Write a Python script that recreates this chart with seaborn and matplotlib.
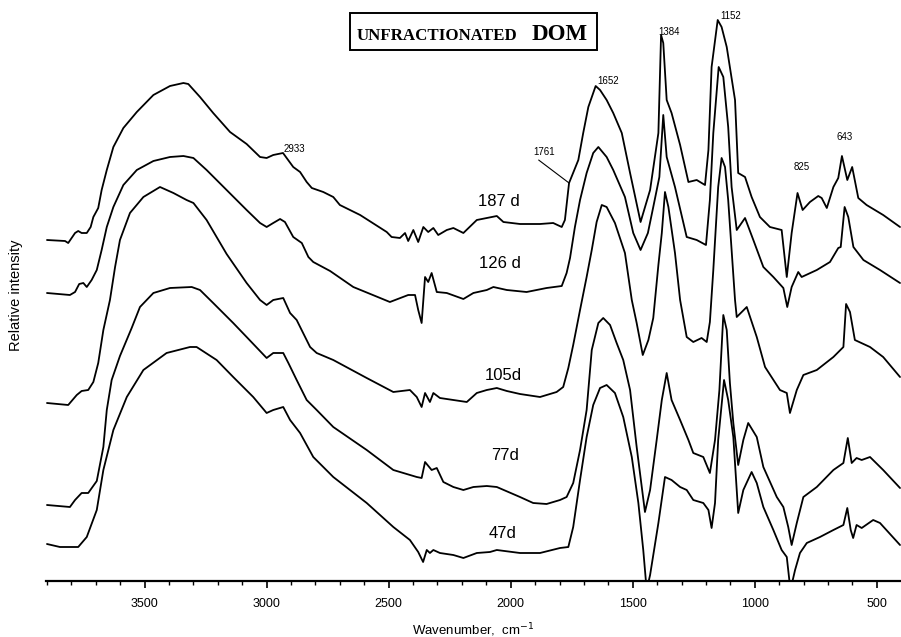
import matplotlib
matplotlib.use("Agg")
import matplotlib.pyplot as plt
from matplotlib.ticker import MultipleLocator
from matplotlib.patches import Rectangle
import seaborn as sns

# FTIR spectra of unfractionated DOM, stacked (relative intensity, a.u.)
wn_187 = [3900, 3826, 3813, 3785, 3772, 3758, 3737, 3721, 3710, 3690,
          3676, 3655, 3628, 3587, 3532, 3464, 3396, 3341, 3321, 3273,
          3219, 3150, 3082, 3027, 3000, 2973, 2933, 2918, 2891, 2863,
          2836, 2815, 2768, 2727, 2700, 2617, 2508, 2488, 2454, 2433,
          2420, 2399, 2379, 2358, 2338, 2317, 2297, 2262, 2235, 2194,
          2139, 2098, 2057, 2030, 1962, 1880, 1826, 1791, 1778, 1761,
          1723, 1703, 1682, 1652, 1634, 1607, 1580, 1545, 1511, 1468,
          1429, 1395, 1384, 1375, 1361, 1341, 1306, 1272, 1238, 1204,
          1190, 1177, 1152, 1136, 1115, 1081, 1068, 1040, 1013, 979,
          938, 890, 869, 849, 825, 804, 774, 740, 726, 705,
          678, 658, 643, 621, 601, 576, 542, 474, 405]
ab_187 = [341, 340, 338, 348, 350, 348, 348, 354, 364, 373,
          391, 411, 434, 453, 469, 486, 495, 498, 497, 484,
          468, 449, 437, 424, 423, 426, 428, 423, 414, 409,
          399, 393, 389, 384, 376, 366, 349, 344, 343, 348,
          340, 351, 339, 354, 349, 353, 346, 351, 353, 348,
          361, 363, 365, 359, 357, 357, 358, 354, 361, 398,
          421, 448, 474, 495, 491, 481, 468, 448, 408, 359,
          391, 448, 546, 538, 481, 468, 436, 399, 401, 396,
          431, 514, 561, 554, 534, 481, 408, 404, 384, 364,
          354, 351, 304, 348, 388, 371, 379, 385, 383, 373,
          394, 403, 425, 401, 414, 383, 376, 366, 354]

wn_126 = [3900, 3806, 3785, 3768, 3751, 3737, 3717, 3696, 3676, 3655,
          3628, 3587, 3532, 3464, 3396, 3341, 3300, 3246, 3164, 3082,
          3027, 3000, 2973, 2945, 2925, 2891, 2856, 2829, 2809, 2740,
          2645, 2495, 2420, 2392, 2379, 2365, 2351, 2338, 2324, 2303,
          2262, 2194, 2153, 2098, 2071, 2016, 1935, 1853, 1791, 1771,
          1757, 1737, 1716, 1689, 1662, 1641, 1607, 1580, 1532, 1498,
          1468, 1438, 1416, 1391, 1375, 1361, 1327, 1279, 1238, 1200,
          1184, 1170, 1148, 1129, 1109, 1095, 1074, 1040, 1006, 965,
          924, 883, 867, 849, 822, 808, 746, 692, 658, 648,
          632, 617, 596, 555, 487, 405]
ab_126 = [288, 286, 289, 297, 298, 294, 301, 311, 331, 354,
          374, 396, 411, 420, 424, 425, 423, 411, 391, 371,
          358, 354, 358, 362, 359, 344, 338, 324, 319, 310,
          294, 279, 286, 286, 271, 258, 304, 299, 308, 289,
          288, 282, 288, 291, 294, 291, 289, 293, 295, 308,
          323, 354, 381, 408, 428, 434, 424, 411, 384, 348,
          331, 348, 374, 404, 466, 424, 394, 344, 341, 336,
          381, 448, 514, 504, 454, 394, 351, 363, 341, 314,
          304, 293, 274, 294, 309, 304, 311, 319, 333, 334,
          374, 364, 334, 321, 311, 298]

wn_105 = [3900, 3813, 3778, 3758, 3731, 3710, 3690, 3669, 3642, 3621,
          3601, 3560, 3505, 3437, 3382, 3328, 3300, 3246, 3164, 3082,
          3027, 3000, 2973, 2932, 2904, 2877, 2822, 2795, 2727, 2590,
          2481, 2413, 2385, 2365, 2351, 2331, 2317, 2290, 2235, 2180,
          2139, 2098, 2057, 2016, 1962, 1880, 1812, 1785, 1764, 1744,
          1716, 1689, 1668, 1648, 1627, 1607, 1573, 1532, 1504, 1484,
          1459, 1436, 1416, 1395, 1381, 1368, 1354, 1327, 1306, 1279,
          1252, 1218, 1197, 1184, 1170, 1150, 1136, 1122, 1109, 1095,
          1081, 1074, 1033, 992, 958, 897, 869, 856, 828, 801,
          746, 678, 637, 626, 610, 590, 528, 474, 405]
ab_105 = [178, 176, 186, 190, 191, 199, 218, 251, 281, 314,
          341, 368, 384, 394, 388, 381, 378, 361, 327, 298,
          281, 276, 281, 283, 268, 261, 234, 228, 221, 203,
          189, 191, 184, 174, 188, 179, 188, 183, 181, 179,
          188, 191, 193, 190, 187, 184, 189, 194, 213, 236,
          271, 304, 331, 359, 376, 374, 358, 328, 281, 258,
          226, 241, 263, 316, 348, 389, 374, 328, 281, 244,
          239, 243, 239, 259, 311, 394, 423, 414, 381, 331,
          281, 264, 274, 244, 214, 191, 188, 168, 191, 206,
          211, 224, 234, 277, 269, 241, 234, 224, 204]

wn_77 = [3900, 3806, 3785, 3758, 3731, 3696, 3669, 3655, 3635, 3601,
         3553, 3519, 3464, 3396, 3307, 3273, 3219, 3137, 3082, 3000,
         2973, 2932, 2911, 2877, 2836, 2795, 2727, 2590, 2481, 2385,
         2365, 2351, 2324, 2303, 2276, 2235, 2194, 2153, 2098, 2057,
         1962, 1908, 1853, 1798, 1771, 1744, 1716, 1689, 1668, 1641,
         1621, 1593, 1566, 1539, 1511, 1484, 1450, 1429, 1402, 1381,
         1361, 1341, 1306, 1272, 1252, 1211, 1184, 1163, 1145, 1129,
         1115, 1102, 1088, 1068, 1047, 1027, 992, 965, 910, 883,
         863, 849, 828, 801, 746, 678, 637, 619, 603, 583,
         562, 528, 474, 405]
ab_77 = [76, 74, 81, 88, 88, 100, 134, 171, 201, 225,
         253, 274, 288, 293, 294, 291, 278, 258, 244, 223,
         228, 228, 218, 201, 181, 171, 154, 131, 111, 104,
         103, 119, 111, 113, 99, 94, 91, 94, 95, 94,
         84, 78, 77, 81, 84, 98, 131, 171, 231, 258,
         263, 256, 238, 221, 191, 134, 69, 91, 141, 181,
         208, 181, 161, 141, 128, 124, 108, 141, 191, 266,
         251, 198, 158, 116, 141, 158, 144, 114, 84, 74,
         54, 36, 58, 84, 94, 111, 118, 143, 118, 123,
         121, 124, 111, 93]

wn_47 = [3900, 3847, 3772, 3737, 3696, 3669, 3628, 3573, 3505, 3410,
         3314, 3287, 3205, 3137, 3055, 3000, 2973, 2932, 2904, 2863,
         2809, 2727, 2590, 2481, 2413, 2379, 2359, 2344, 2331, 2317,
         2290, 2235, 2194, 2139, 2085, 2057, 1962, 1880, 1798, 1764,
         1744, 1716, 1689, 1662, 1634, 1607, 1573, 1539, 1504, 1477,
         1457, 1443, 1429, 1395, 1368, 1341, 1306, 1279, 1252, 1211,
         1190, 1177, 1163, 1150, 1126, 1109, 1088, 1068, 1047, 1013,
         992, 965, 924, 890, 869, 854, 835, 815, 787, 733,
         678, 637, 621, 607, 597, 583, 562, 515, 487, 405]
ab_47 = [37, 34, 34, 44, 71, 111, 151, 184, 211, 228,
         234, 234, 221, 204, 184, 168, 171, 174, 161, 148,
         124, 104, 78, 54, 41, 29, 19, 31, 28, 31,
         28, 26, 23, 28, 29, 31, 28, 28, 33, 34,
         54, 101, 144, 176, 193, 196, 188, 164, 124, 78,
         31, -9, 6, 58, 104, 101, 94, 91, 81, 78,
         71, 53, 78, 141, 201, 181, 144, 68, 91, 109,
         98, 74, 51, 31, 24, -9, 11, 28, 38, 44,
         51, 56, 73, 51, 43, 56, 53, 61, 58, 36]

days = ["187 d", "126 d", "105d", "77d", "47d"]
spectra = [(wn_187, ab_187), (wn_126, ab_126), (wn_105, ab_105),
           (wn_77, ab_77), (wn_47, ab_47)]
day_label_pos = [(2048, 379), (2044, 317), (2032, 205), (2023, 125), (2032, 48)]

# assigned bands on the 187 d spectrum: (wavenumber, label offset in points)
bands = [(2933, (8.5, 3.1)), (1652, (8.9, 3.6)), (1384, (5.8, 2.2)),
         (1152, (9.0, 2.9)), (825, (2.7, 18.5)), (643, (1.9, 13.7))]
shoulder = 1761

sns.set_theme(style="white")
plt.rcParams["font.family"] = ["Liberation Sans", "DejaVu Sans"]

fig = plt.figure(figsize=(9.01, 6.37), dpi=100)
ax = fig.add_axes([46 / 901, 56 / 637, 855 / 901, 581 / 637])

for wn, ab in spectra:
    sns.lineplot(x=wn, y=ab, ax=ax, color="black", linewidth=1.3,
                 estimator=None, errorbar=None, sort=True, legend=False)

ax.set_xlim(3904, 401)
ax.set_ylim(0, 581)

for side in ("top", "right", "left"):
    ax.spines[side].set_visible(False)
ax.spines["bottom"].set_color("black")
ax.spines["bottom"].set_linewidth(1.6)

ax.xaxis.set_major_locator(MultipleLocator(500))
ax.xaxis.set_minor_locator(MultipleLocator(100))
ax.tick_params(axis="x", which="major", direction="out", length=5, width=1.2,
               color="black", bottom=True, labelsize=9, pad=7,
               labelcolor="black")
ax.tick_params(axis="x", which="minor", direction="out", length=3, width=1.0,
               color="black", bottom=True)
ax.set_yticks([])
ax.set_xlabel("")
ax.set_ylabel("")

# day labels
for txt, (x, y) in zip(days, day_label_pos):
    ax.text(x, y, txt, fontsize=12, ha="center", va="center", color="black")

# band assignments
top_wn, top_ab = spectra[0]
for w, off in bands:
    y = top_ab[top_wn.index(w)]
    ax.annotate(str(w), xy=(w, y), xytext=off, textcoords="offset points",
                ha="center", va="center", fontsize=7, color="black")
ys = top_ab[top_wn.index(shoulder)]
ax.annotate(str(shoulder), xy=(shoulder, ys), xytext=(-18, 22.5),
            textcoords="offset points", ha="center", va="center",
            fontsize=7, color="black",
            arrowprops=dict(arrowstyle="-", color="black", lw=0.8,
                            relpos=(0.05, 0.0), shrinkA=0, shrinkB=0))

# axis titles
fig.text(473 / 901, 1 - 630 / 637, "Wavenumber,  cm$^{-1}$", ha="center",
         va="center", fontsize=9.5, color="black")
fig.text(16 / 901, 1 - 295 / 637, "Relative intensity", rotation=90,
         ha="center", va="center", fontsize=10.5, color="black")

# boxed title
fig.add_artist(Rectangle((350 / 901, 1 - 50 / 637), 247 / 901, 37 / 637,
                         transform=fig.transFigure, fill=False,
                         edgecolor="black", linewidth=1.4))
fig.text(357 / 901, 1 - 39.5 / 637, "UNFRACTIONATED", ha="left",
         va="baseline", fontsize=12.2, fontweight="bold",
         family="Liberation Serif", color="black")
fig.text(532 / 901, 1 - 39.5 / 637, "DOM", ha="left", va="baseline",
         fontsize=16.5, fontweight="bold", family="Liberation Serif",
         color="black")

fig.savefig("out.png", dpi=100, facecolor="white")
